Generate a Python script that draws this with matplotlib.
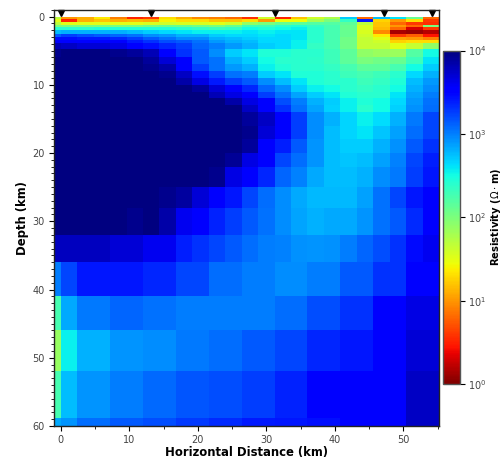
import numpy as np
import matplotlib
matplotlib.use("Agg")
import matplotlib.pyplot as plt
from matplotlib.colors import LogNorm
from matplotlib.ticker import MultipleLocator, LogLocator, NullLocator

x_edges = [-1, 0, 2.4, 4.8, 7.2, 9.6, 12, 14.4, 16.8, 19.2, 21.6, 24, 26.4, 28.8, 31.2,
           33.6, 36, 38.4, 40.8, 43.2, 45.6, 48, 50.4, 52.8, 55.2]
depth_edges = [0, 0.4, 0.8, 1.2, 1.6, 2, 2.5, 3, 3.4, 3.9, 4.8, 6, 7, 8, 9, 10, 11, 12, 13, 14,
               16, 18, 20, 22, 25, 28, 32, 36, 41, 46, 52, 58.8, 60]
stations_km = [0.0, 13.2, 31.2, 47.2, 54.2]
stations_depth = [-0.5, -0.5, -0.5, -0.5, -0.5]

layer_00 = [1.7,1.0,1.1,1.35,0.9,0.5,0.6,1.3,1.1,0.95,0.9,0.8,0.55,1.6,0.5,1.2,1.6,1.75,2.7,0.8,2.75,2.6,2.1,0.8]
layer_01 = [1.5,0.5,1.1,1.2,1.1,1.15,1.1,1.4,1.3,1.3,1.2,1.2,1.3,1.0,1.45,1.45,1.8,2.0,2.35,3.4,1.25,1.0,1.3,0.6]
layer_02 = [1.7,1.5,1.5,1.5,1.5,1.5,1.55,1.6,1.55,1.55,1.5,1.6,1.9,2.0,2.1,2.15,2.2,2.2,2.15,1.7,1.2,0.8,0.6,0.55]
layer_03 = [2.0,2.0,2.0,2.0,2.0,2.0,2.05,2.1,2.1,2.05,2.0,2.1,2.3,2.3,2.4,2.45,2.35,2.25,2.1,1.55,1.2,1.0,0.8,2.0]
layer_04 = [2.4,2.4,2.4,2.45,2.45,2.45,2.45,2.45,2.4,2.35,2.3,2.35,2.5,2.45,2.5,2.55,2.4,2.25,2.1,1.55,1.15,0.8,0.3,0.6]
layer_05 = [2.75,2.8,2.8,2.8,2.8,2.75,2.7,2.65,2.6,2.55,2.55,2.55,2.6,2.55,2.6,2.6,2.4,2.25,2.1,1.55,0.95,0.15,0.1,0.2]
layer_06 = [3.15,3.25,3.2,3.15,3.1,3.05,2.95,2.9,2.8,2.8,2.7,2.65,2.65,2.6,2.65,2.6,2.4,2.25,2.1,1.6,1.35,0.6,0.75,0.45]
layer_07 = [3.45,3.45,3.4,3.4,3.35,3.25,3.15,3.05,2.95,2.95,2.8,2.75,2.7,2.65,2.65,2.6,2.4,2.25,2.05,1.65,1.5,1.05,1.0,0.9]
layer_08 = [3.55,3.55,3.55,3.5,3.5,3.4,3.3,3.2,3.15,3.05,2.9,2.8,2.75,2.65,2.65,2.55,2.4,2.25,2.05,1.65,1.6,1.25,1.3,1.3]
layer_09 = [3.8,3.75,3.7,3.7,3.65,3.55,3.45,3.35,3.25,3.1,3.0,2.9,2.8,2.7,2.65,2.55,2.35,2.25,2.05,1.65,1.65,1.5,1.65,1.9]
layer_10 = [3.95,4,4,4,3.95,3.9,3.8,3.55,3.3,3.15,2.95,2.7,2.6,2.45,2.45,2.4,2.4,2.3,2.15,1.9,1.85,1.85,2.2,2.5]
layer_11 = [4,4,4,4,4,4,3.9,3.7,3.5,3.15,3.05,2.8,2.7,2.5,2.4,2.4,2.38,2.3,2.15,2.0,2.05,2.1,2.3,2.6]
layer_12 = [4,4,4,4,4,4,3.95,3.85,3.5,3.25,3.05,2.9,2.8,2.55,2.45,2.4,2.4,2.35,2.25,2.15,2.15,2.25,2.5,2.7]
layer_13 = [4,4,4,4,4,4,4,3.95,3.75,3.45,3.25,3.05,3.0,2.7,2.6,2.45,2.45,2.4,2.3,2.25,2.3,2.4,2.65,2.8]
layer_14 = [4,4,4,4,4,4,4,4,3.85,3.65,3.4,3.25,3.15,2.95,2.75,2.6,2.45,2.4,2.4,2.3,2.35,2.45,2.75,2.9]
layer_15 = [4,4,4,4,4,4,4,4,4,3.9,3.7,3.5,3.35,3.1,2.95,2.7,2.55,2.5,2.4,2.35,2.4,2.5,2.8,2.95]
layer_16 = [4,4,4,4,4,4,4,4,4,4,3.8,3.65,3.5,3.25,3.05,2.85,2.7,2.6,2.45,2.4,2.4,2.6,2.85,3.0]
layer_17 = [4,4,4,4,4,4,4,4,4,4,4,3.85,3.65,3.5,3.2,3.0,2.8,2.7,2.55,2.45,2.5,2.65,2.9,3.05]
layer_18 = [4,4,4,4,4,4,4,4,4,4,4,4,3.75,3.55,3.3,3.05,2.85,2.68,2.56,2.4,2.5,2.68,2.93,3.07]
layer_19 = [4,4,4,4,4,4,4,4,4,4,4,4,3.9,3.75,3.5,3.26,2.95,2.8,2.66,2.56,2.64,2.8,3.03,3.23]
layer_20 = [4,4,4,4,4,4,4,4,4,4,4,4,3.95,3.7,3.5,3.26,2.95,2.75,2.66,2.6,2.72,2.87,3.07,3.23]
layer_21 = [4,4,4,4,4,4,4,4,4,4,4,4,3.9,3.5,3.38,3.15,2.91,2.75,2.7,2.7,2.81,2.93,3.15,3.3]
layer_22 = [4,4,4,4,4,4,4,4,4,4,4,3.92,3.65,3.5,3.23,3.07,2.91,2.75,2.72,2.75,2.87,2.99,3.23,3.38]
layer_23 = [4,4,4,4,4,4,4,4,4,4,3.95,3.65,3.5,3.35,3.1,2.99,2.83,2.75,2.75,2.8,2.95,3.03,3.26,3.42]
layer_24 = [4,4,4,4,4,4,4,3.95,3.88,3.7,3.5,3.42,3.23,3.07,2.95,2.83,2.77,2.77,2.77,2.87,3.05,3.23,3.42,3.5]
layer_25 = [4,4,4,4,4,3.95,4,3.85,3.6,3.5,3.36,3.26,3.15,3.05,2.95,2.85,2.8,2.83,2.83,2.91,3.05,3.15,3.34,3.5]
layer_26 = [3.78,3.78,3.78,3.78,3.7,3.7,3.6,3.6,3.38,3.3,3.23,3.15,3.07,3.0,2.99,2.93,2.91,2.93,3.0,3.1,3.2,3.3,3.46,3.6]
layer_27 = [3.0,3.23,3.42,3.42,3.42,3.42,3.35,3.35,3.23,3.23,3.07,3.07,3.0,3.0,2.95,2.95,3.0,3.0,3.15,3.15,3.3,3.3,3.5,3.5]
layer_28 = [2.26,2.83,3.03,3.03,3.1,3.1,3.05,3.05,3.0,3.0,3.0,3.0,3.0,3.0,3.07,3.07,3.2,3.2,3.3,3.3,3.5,3.5,3.65,3.65]
layer_29 = [1.87,2.56,2.8,2.8,2.91,2.91,2.95,2.95,3.03,3.03,3.07,3.07,3.15,3.15,3.23,3.23,3.35,3.35,3.42,3.42,3.5,3.5,3.7,3.7]
layer_30 = [2.26,2.75,2.91,2.91,3.0,3.0,3.08,3.08,3.17,3.17,3.2,3.2,3.26,3.26,3.36,3.36,3.5,3.5,3.5,3.5,3.55,3.55,3.75,3.75]
layer_31 = [2.83,2.91,3.07,3.07,3.15,3.15,3.2,3.2,3.28,3.28,3.34,3.34,3.4,3.4,3.42,3.42,3.45,3.45,3.5,3.5,3.55,3.55,3.75,3.75]

layers = [layer_00, layer_01, layer_02, layer_03, layer_04, layer_05, layer_06, layer_07, layer_08,
          layer_09, layer_10, layer_11, layer_12, layer_13, layer_14, layer_15, layer_16, layer_17,
          layer_18, layer_19, layer_20, layer_21, layer_22, layer_23, layer_24, layer_25, layer_26,
          layer_27, layer_28, layer_29, layer_30, layer_31]
resistivity = 10.0 ** np.array(layers, dtype=float)

W, H = 502, 459
fig = plt.figure(figsize=(W / 100, H / 100), dpi=100)
ax = fig.add_axes([54 / W, 1 - 426 / H, (439 - 54) / W, (426 - 9.7) / H])
norm = LogNorm(vmin=1, vmax=1e4)
mesh = ax.pcolormesh(x_edges, depth_edges, resistivity, cmap="jet_r", norm=norm,
                     shading="flat", rasterized=True)
ax.plot(stations_km, stations_depth, linestyle="none", marker="v", color="black", ms=5, clip_on=False)
ax.set_xlim(-1, 55.2)
ax.set_ylim(60, -1)

tick_color = "#444444"
ax.xaxis.set_major_locator(MultipleLocator(10))
ax.xaxis.set_minor_locator(MultipleLocator(5))
ax.yaxis.set_major_locator(MultipleLocator(10))
ax.yaxis.set_minor_locator(MultipleLocator(1))
ax.tick_params(which="major", length=3.5, width=0.8, labelsize=7, labelcolor=tick_color, pad=3)
ax.tick_params(which="minor", length=2, width=0.6)
ax.set_xlabel("Horizontal Distance (km)", fontsize=8.4, fontweight="bold", labelpad=1)
ax.set_ylabel("Depth (km)", fontsize=8.4, fontweight="bold", labelpad=2.5)
for s in ax.spines.values():
    s.set_linewidth(1.0)
    s.set_color("#222222")

cax = fig.add_axes([443.5 / W, 1 - 384 / H, (460.5 - 443.5) / W, (384 - 50.5) / H])
cb = fig.colorbar(mesh, cax=cax)
cb.ax.yaxis.set_major_locator(LogLocator(base=10, numticks=6))
cb.ax.yaxis.set_minor_locator(NullLocator())
cb.ax.tick_params(which="major", length=3.5, width=0.8, labelsize=7, labelcolor=tick_color, pad=2)
cb.outline.set_edgecolor("#555555")
cb.outline.set_linewidth(1.0)
cb.set_label("Resistivity ($\\Omega\\cdot$m)", fontsize=7.2, fontweight="bold", labelpad=1.5)

fig.savefig("out.png", dpi=100)
